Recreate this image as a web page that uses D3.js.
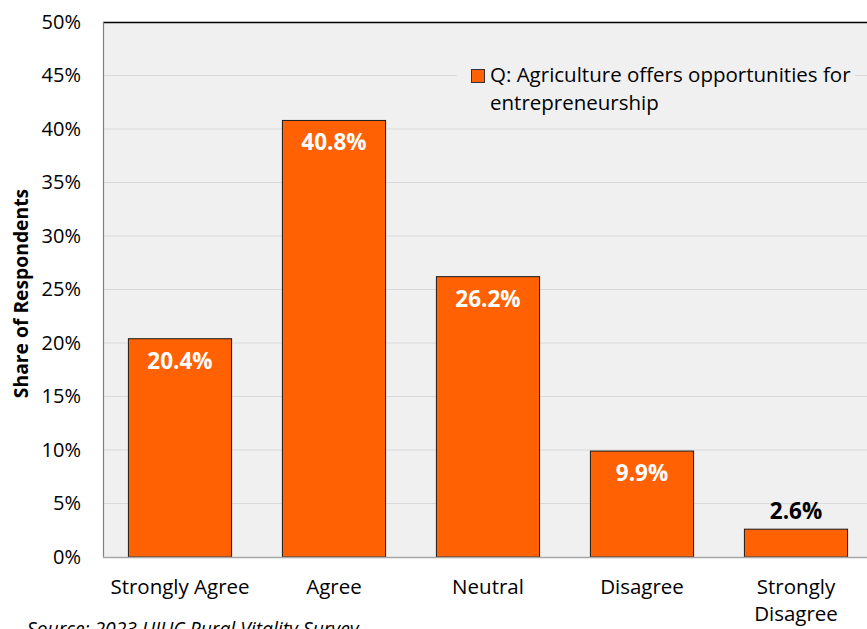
<!DOCTYPE html>
<html><head><meta charset="utf-8">
<script src="https://cdn.jsdelivr.net/npm/d3@7"></script>
<style>body{margin:0;background:#fff}svg{display:block}</style>
</head><body>
<script>
const categories = ["Strongly Agree", "Agree", "Neutral", "Disagree", "Strongly Disagree"];
const values = [20.4, 40.8, 26.2, 9.9, 2.6];
const yTicks = [0, 5, 10, 15, 20, 25, 30, 35, 40, 45, 50];
const seriesName = "Q: Agriculture offers opportunities for entrepreneurship";
const yTitle = "Share of Respondents";
const source = "Source: 2023 UIUC Rural Vitality Survey";

(function() {
const W = 867, H = 629;
const font = "'Open Sans', sans-serif";
const svg = d3.select("body").append("svg").attr("width", W).attr("height", H);
const pL = 103, pR = 873, pT = 22, pB = 557;

const x = d3.scaleBand().domain(categories).range([pL, pR]).paddingInner(0.33).paddingOuter(0.165);
const y = d3.scaleLinear().domain([0, 50]).range([pB, pT]);

svg.append("rect").attr("x", pL).attr("y", pT).attr("width", pR - pL).attr("height", pB - pT).attr("fill", "#f0f0f0");

// gridlines
svg.append("g").selectAll("line").data(yTicks.filter(d => d > 0 && d < 50)).join("line")
  .attr("x1", pL).attr("x2", pR).attr("y1", d => y(d)).attr("y2", d => y(d))
  .attr("stroke", "#d9d9d9").attr("stroke-width", 1);

// borders
svg.append("line").attr("x1", pL).attr("x2", pR).attr("y1", pT + 0.5).attr("y2", pT + 0.5).attr("stroke", "#000").attr("stroke-width", 1.5);
svg.append("line").attr("x1", pL + 0.5).attr("x2", pL + 0.5).attr("y1", pT).attr("y2", pB).attr("stroke", "#808080").attr("stroke-width", 1.2);

// bars
svg.append("g").selectAll("rect").data(values).join("rect")
  .attr("x", (d, i) => x(categories[i]))
  .attr("y", d => y(d))
  .attr("width", x.bandwidth())
  .attr("height", d => pB - y(d))
  .attr("fill", "#ff6103").attr("stroke", "#1a1a1a").attr("stroke-width", 1);

// bottom axis line
svg.append("line").attr("x1", pL).attr("x2", pR).attr("y1", pB + 0.5).attr("y2", pB + 0.5).attr("stroke", "#a6a6a6").attr("stroke-width", 1.5);

// value labels
svg.append("g").selectAll("text").data(values).join("text")
  .attr("x", (d, i) => x(categories[i]) + x.bandwidth() / 2)
  .attr("y", d => d < 5 ? y(d) - 10 : y(d) + 30)
  .attr("text-anchor", "middle")
  .attr("font-family", font).attr("font-weight", "bold").attr("font-size", 22.5)
  .attr("fill", d => d < 5 ? "#000" : "#fff")
  .text(d => d.toFixed(1) + "%");

// y axis
const yAxis = d3.axisLeft(y).tickValues(yTicks).tickFormat(d => d + "%").tickSize(0).tickPadding(22);
const ya = svg.append("g").attr("transform", `translate(${pL},0)`).call(yAxis);
ya.select(".domain").remove();
ya.selectAll("text").attr("font-family", font).attr("font-size", 20).attr("fill", "#000");

// x axis
const xAxis = d3.axisBottom(x).tickSize(0).tickPadding(0);
const xa = svg.append("g").attr("transform", `translate(0,${pB})`).call(xAxis);
xa.select(".domain").remove();
xa.selectAll("text").remove();
xa.selectAll(".tick").each(function(d) {
  const parts = d === "Strongly Disagree" ? ["Strongly", "Disagree"] : [d];
  const t = d3.select(this).append("text").attr("font-family", font).attr("font-size", 20.5).attr("fill", "#000").attr("text-anchor", "middle");
  parts.forEach((p, i) => t.append("tspan").attr("x", 0).attr("y", 37 + i * 27).text(p));
});

// y title
svg.append("text").attr("transform", `translate(28,${(pT + pB) / 2 + 4}) rotate(-90)`)
  .attr("text-anchor", "middle").attr("font-family", font).attr("font-weight", "bold").attr("font-size", 19.3)
  .text(yTitle);

// legend
const lg = svg.append("g");
lg.append("rect").attr("x", 457).attr("y", 58).attr("width", 398).attr("height", 62).attr("fill", "#f0f0f0");
lg.append("rect").attr("x", 471.5).attr("y", 69.5).attr("width", 13).attr("height", 13).attr("fill", "#ff6103").attr("stroke", "#333").attr("stroke-width", 1);
const lt = lg.append("text").attr("font-family", font).attr("font-size", 20.5).attr("fill", "#000");
lt.append("tspan").attr("x", 490).attr("y", 82).text("Q: Agriculture offers opportunities for");
lt.append("tspan").attr("x", 490).attr("y", 110).text("entrepreneurship");

// source
svg.append("text").attr("x", 27).attr("y", 636).attr("font-family", font).attr("font-style", "italic").attr("font-size", 19.3)
  .attr("fill", "#000").text(source);
})();
</script>
</body></html>
